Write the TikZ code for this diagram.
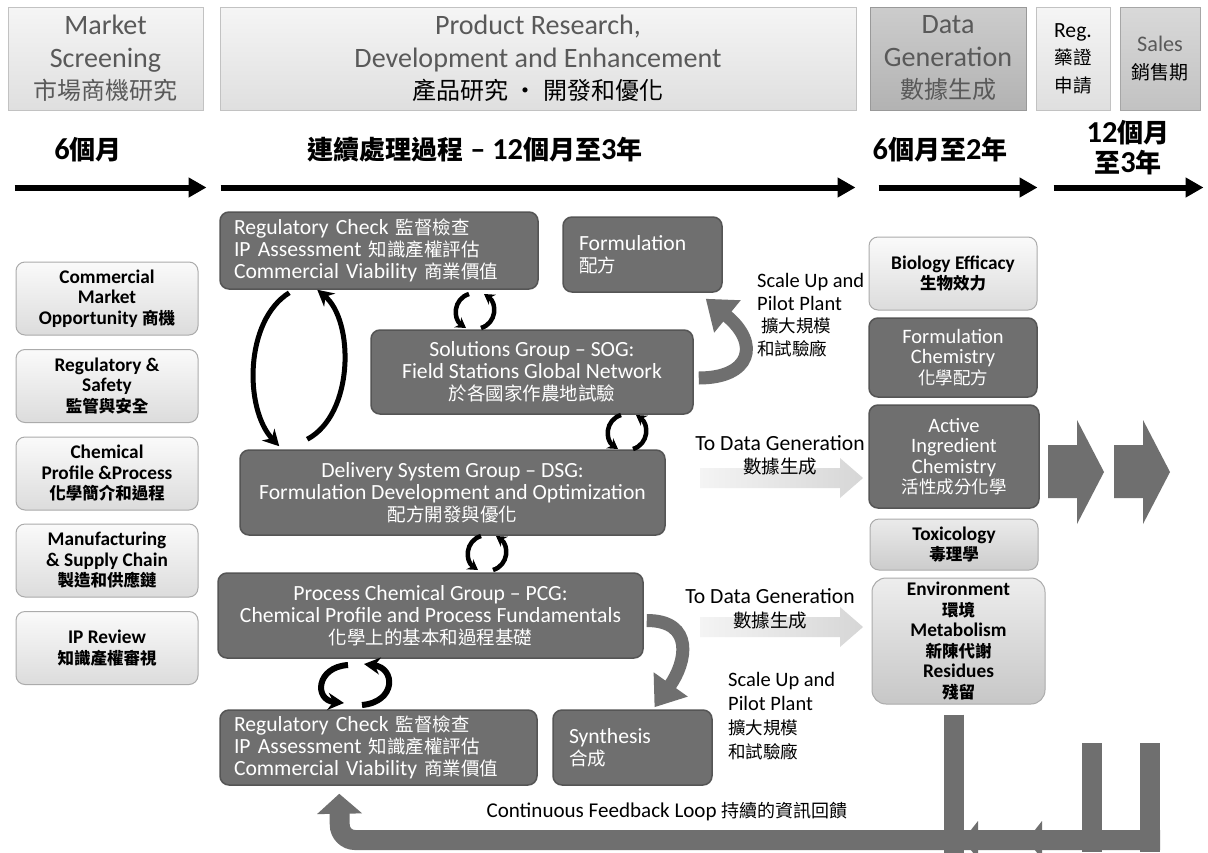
\documentclass[tikz,border=0pt]{standalone}
\usepackage{fontspec}
\setmainfont{Carlito}[Scale=1.17]
\newfontfamily\zhfont{Noto Sans CJK TC}
\usetikzlibrary{arrows.meta,calc}
\newcommand{\zh}[1]{{\zhfont #1}}
\definecolor{boxdark}{HTML}{6F6F6F}
\definecolor{boxline}{HTML}{555555}
\definecolor{lighttop}{HTML}{FAFAFA}
\definecolor{lightbot}{HTML}{DCDCDC}
\definecolor{lightline}{HTML}{ABABAB}
\definecolor{headtop}{HTML}{F5F5F5}
\definecolor{headbot}{HTML}{DFDFDF}
\definecolor{headline}{HTML}{C2C2C2}
\definecolor{headtext}{HTML}{595959}
\definecolor{arrowlight}{HTML}{F4F4F4}
\definecolor{arrowmid}{HTML}{D6D6D6}
\tikzset{
    every node/.style={inner sep=0pt, align=center},
    headbox/.style={draw=headline, line width=1pt, top color=headtop, bottom color=headbot,
        text=headtext, font=\fontsize{24}{32.5}\selectfont},
    darkbox/.style={draw=boxline, line width=1.5pt, fill=boxdark, rounded corners=9pt,
        text=white, font=\fontsize{18.5}{22}\selectfont},
    lightbox/.style={draw=lightline, line width=1pt, top color=lighttop, bottom color=lightbot,
        rounded corners=9pt, text=black, font=\bfseries\fontsize{16.5}{20.5}\selectfont},
    durtext/.style={font=\bfseries\fontsize{26}{30}\selectfont},
    labeltext/.style={text=black, font=\fontsize{17.5}{22.5}\selectfont},
    timeline/.style={line width=6pt, -{Triangle[length=18pt,width=19pt]}},
    bigcycle/.style={line width=5pt, -{Stealth[length=16pt,width=17pt]}},
    smallcycle/.style={line width=4.5pt, -{Stealth[length=10pt,width=12pt]}},
    scalearrow/.style={line width=13pt, draw=boxdark, -{Triangle[length=28pt,width=40pt]}},
    dataarrow/.style={left color=arrowlight, right color=arrowmid},
    pipe/.style={line width=20pt, draw=boxdark}
}
\begin{document}
\begin{tikzpicture}[x=1pt, y=-1pt]
    \useasboundingbox (0,0) rectangle (1208,852);
    \fill[white] (0,0) rectangle (1208,852);

    % phase headers
    \node (mkt) at (105.5,58.5) [headbox, minimum width=195, minimum height=103] {Market\\Screening\\\zh{市場商機研究}};
    \node (prd) at (538,58.5) [headbox, minimum width=636, minimum height=103] {Product Research,\\Development and Enhancement\\\textcolor{black}{\zh{產品研究 · 開發和優化}}};
    \node (dat) at (948,58.5) [headbox, top color=black!20, bottom color=black!30, draw=black!40, minimum width=156, minimum height=103] {Data\\Generation\\\zh{數據生成}};
    \node (reg) at (1073,58.5) [headbox, text=black, font=\fontsize{18.5}{27.5}\selectfont, minimum width=74, minimum height=103] {Reg.\\\zh{藥證}\\\zh{申請}};
    \node (sal) at (1160,58.5) [headbox, top color=black!15, bottom color=black!24, draw=black!35, font=\fontsize{19}{28}\selectfont, minimum width=80, minimum height=103] {Sales\\\textcolor{black}{\zh{銷售期}}};

    \node (d1) at (88,150) [durtext] {6\zh{個月}};
    \node (d2) at (475,150) [durtext] {\zh{連續處理過程} -- 12\zh{個月至}3\zh{年}};
    \node (d3) at (940,150) [durtext] {6\zh{個月至}2\zh{年}};
    \node (d4) at (1128,148) [durtext] {12\zh{個月}\\\zh{至}3\zh{年}};

    \draw[timeline] ($(mkt.south west)+(7,77)$) -- ($(mkt.south east)+(3,77)$);
    \draw[timeline] ($(prd.south west)+(1,77)$) -- ($(prd.south east)+(-1,77)$);
    \draw[timeline] ($(dat.south west)+(9,77)$) -- ($(dat.south east)+(11,77)$);
    \draw[timeline] ($(reg.south west)+(18,77)$) -- ($(sal.south east)+(3,77)$);

    % market screening topics
    \node (cmo) at (107,298.5) [lightbox, minimum width=182, minimum height=73] {Commercial\\Market\\Opportunity \zh{商機}};
    \node (rsf) at (107,386) [lightbox, minimum width=182, minimum height=73] {Regulatory \&\\Safety\\\zh{監管與安全}};
    \node (cpp) at (107,473.5) [lightbox, minimum width=182, minimum height=73] {Chemical\\Profile \&Process\\\zh{化學簡介和過程}};
    \node (msc) at (107,560.5) [lightbox, minimum width=182, minimum height=73] {Manufacturing\\\& Supply Chain\\\zh{製造和供應鏈}};
    \node (ipr) at (107,648) [lightbox, minimum width=182, minimum height=73] {IP Review\\\zh{知識產權審視}};

    % research groups
    \node (regtop) at (379,250.5) [darkbox, minimum width=318, minimum height=77, text width=290, align=left] {Regulatory Check \zh{監督檢查}\\IP Assessment \zh{知識產權評估}\\Commercial Viability \zh{商業價值}};
    \node (form) at (642.5,254.5) [darkbox, minimum width=159, minimum height=75, text width=127, align=left] {Formulation\\\zh{配方}};
    \node (sog) at (532,372) [darkbox, minimum width=322, minimum height=84] {Solutions Group -- SOG:\\Field Stations Global Network\\\zh{於各國家作農地試驗}};
    \node (dsg) at (452.5,492.5) [darkbox, minimum width=425, minimum height=85] {Delivery System Group -- DSG:\\Formulation Development and Optimization\\\zh{配方開發與優化}};
    \node (pcg) at (430.5,615.5) [darkbox, minimum width=425, minimum height=85] {Process Chemical Group -- PCG:\\Chemical Profile and Process Fundamentals\\\zh{化學上的基本和過程基礎}};
    \node (regbot) at (378.5,747.5) [darkbox, minimum width=317, minimum height=75, text width=289, align=left] {Regulatory Check \zh{監督檢查}\\IP Assessment \zh{知識產權評估}\\Commercial Viability \zh{商業價值}};
    \node (synth) at (632.5,747.5) [darkbox, minimum width=159, minimum height=75, text width=127, align=left] {Synthesis\\\zh{合成}};

    % data generation studies
    \node (bio) at (953,273.5) [lightbox, minimum width=168, minimum height=73] {Biology Efficacy\\\zh{生物效力}};
    \node (fchem) at (953,357.5) [darkbox, font=\fontsize{17.5}{20.5}\selectfont, minimum width=168, minimum height=79] {Formulation\\Chemistry\\\zh{化學配方}};
    \node (aic) at (954,456.5) [darkbox, font=\fontsize{17.5}{20.5}\selectfont, minimum width=170, minimum height=103] {Active\\Ingredient\\Chemistry\\\zh{活性成分化學}};
    \node (tox) at (954,544.5) [lightbox, top color=black!8, bottom color=black!20, minimum width=168, minimum height=51] {Toxicology\\\zh{毒理學}};
    \node (env) at (958.5,641) [lightbox, top color=black!7, bottom color=black!22, rounded corners=14pt, minimum width=173, minimum height=126] {Environment\\\zh{環境}\\Metabolism\\\zh{新陳代謝}\\Residues\\\zh{殘留}};

    % towards registration and sales
    \foreach \xo in {0,66} {
        \fill[boxdark] (1048+\xo,445) -- (1077+\xo,445) -- (1077+\xo,420) -- (1104+\xo,472)
            -- (1077+\xo,524) -- (1077+\xo,498) -- (1048+\xo,498) -- cycle;
    }

    % labels
    \node (scl1) at (757,315) [labeltext, anchor=west, align=left] {Scale Up and\\Pilot Plant\\\hspace{4pt}\zh{擴大規模}\\\zh{和試驗廠}};
    \node (scl2) at (728,716) [labeltext, anchor=west, align=left, font=\fontsize{17.5}{24}\selectfont] {Scale Up and\\Pilot Plant\\\zh{擴大規模}\\\zh{和試驗廠}};

    \foreach \ay in {478,627} {
        \shade[dataarrow] (700,\ay-10) -- (840,\ay-10) -- (840,\ay-20) -- (863,\ay)
            -- (840,\ay+20) -- (840,\ay+10) -- (700,\ay+10) -- cycle;
    }
    \node (tdg1) at (780,455) [labeltext, font=\fontsize{18.5}{23}\selectfont] {To Data Generation\\\zh{數據生成}};
    \node (tdg2) at (770,609) [labeltext, font=\fontsize{18.5}{24}\selectfont] {To Data Generation\\\zh{數據生成}};

    % scale up arrows
    \draw[scalearrow] ($(sog.east)+(5,6)$) .. controls +(52,0) and +(55,45) .. ($(form.south east)+(-17,6)$);
    \draw[scalearrow] ($(pcg.east)+(3,5)$) .. controls +(48,0) and +(32,-45) .. ($(synth.north)+(22,-2)$);

    % exchange between groups
    \draw[bigcycle] ($(regtop.south west)+(70,3)$) .. controls +(-45,28) and +(-35,-37) .. ($(dsg.north west)+(40,-3)$);
    \draw[bigcycle] ($(dsg.north west)+(68,-10)$) .. controls +(47,-25) and +(37,31) .. ($(regtop.south west)+(98,0)$);
    \foreach \cx/\cy in {475/311, 627/432, 487/553} {
        \draw[smallcycle] (\cx-6,\cy-17) .. controls (\cx-22,\cy-12) and (\cx-22,\cy+8) .. (\cx-9,\cy+17);
        \draw[smallcycle] (\cx+6,\cy+17) .. controls (\cx+22,\cy+12) and (\cx+22,\cy-8) .. (\cx+9,\cy-17);
    }
    \draw[bigcycle, line width=6pt] (348,665) .. controls (316,667) and (314,700) .. (344,703);
    \draw[bigcycle, line width=6pt] (362,705) .. controls (396,702) and (396,668) .. (364,664);

    % feedback loop
    \draw[pipe] ($(env.south)+(-5,10)$) -- ++(0,145);
    \draw[pipe] (1092,743) -- (1092,852);
    \draw[pipe] (1150,743) -- (1150,852);
    \draw[pipe, rounded corners=15pt, -{Triangle[length=20pt,width=44pt]}] (1160,840) -- (340,840) -- ($(regbot.south west)+(120,8)$);
    \foreach \xt in {963,1027} {
        \fill[boxdark] (\xt+15,821) -- (\xt,840) -- (\xt+15,859) -- cycle;
    }
    \node (fbl) at (667,812) [labeltext, font=\fontsize{18}{22}\selectfont] {Continuous Feedback Loop \zh{持續的資訊回饋}};
\end{tikzpicture}
\end{document}
